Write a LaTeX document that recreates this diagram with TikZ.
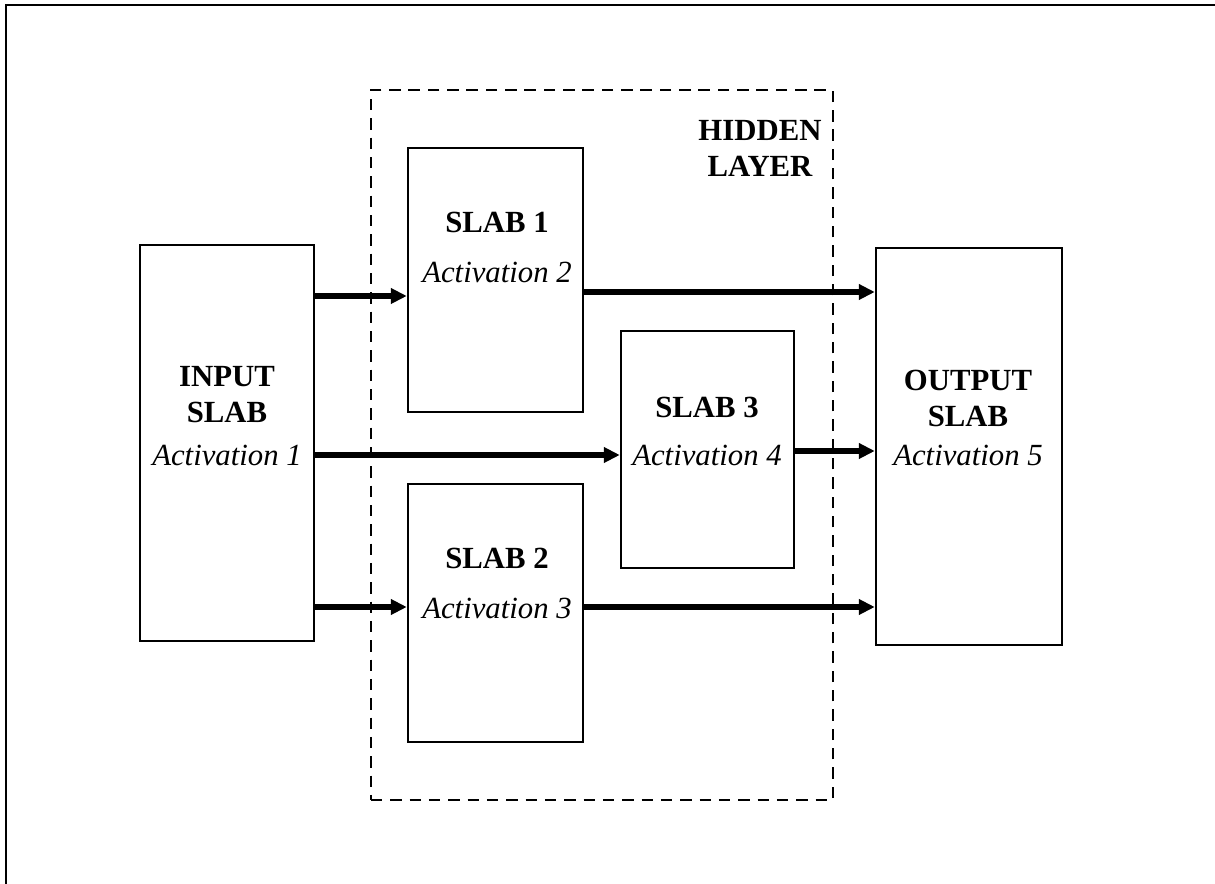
\documentclass[tikz,border=0pt]{standalone}
\usepackage{fontspec}
\setmainfont{Liberation Serif}
\usepackage{tikz}
\usetikzlibrary{arrows.meta,positioning,calc}

\begin{document}
\begin{tikzpicture}[
  font=\fontsize{17}{20.5}\selectfont,
  slab/.style={draw=black,line width=1.4pt,fill=white,inner sep=0pt},
  hid/.style={draw=black,line width=1.4pt,dash pattern=on 6.5pt off 4.5pt,inner sep=0pt},
  ttl/.style={font=\fontsize{17.5}{20.5}\selectfont\bfseries,align=center,inner sep=0pt},
  act/.style={font=\fontsize{17.5}{20.5}\selectfont\itshape,inner sep=0pt},
  fl/.style={-{Triangle[length=3.2mm,width=3mm]},line width=3pt,draw=black}]

\useasboundingbox (0,0) rectangle (24.3,-17.68);
\draw[line width=1.4pt] (0.12,-17.68) -- (0.12,-0.10) -- (24.3,-0.10);

% hidden layer
\node[hid,minimum width=9.24cm,minimum height=14.2cm] (hl) at (12.04,-8.90) {};
\node[ttl] (hltxt) at (15.2,-2.96) {HIDDEN\\LAYER};

% slabs
\node[slab,minimum width=3.48cm,minimum height=7.92cm] (in)  at ( 4.54,-8.86) {};
\node[slab,minimum width=3.50cm,minimum height=5.28cm] (s1)  at ( 9.91,-5.60) {};
\node[slab,minimum width=3.50cm,minimum height=5.16cm] (s2)  at ( 9.91,-12.26) {};
\node[slab,minimum width=3.46cm,minimum height=4.74cm] (s3)  at (14.15,-8.99) {};
\node[slab,minimum width=3.72cm,minimum height=7.94cm] (out) at (19.38,-8.93) {};

\node[ttl] (intxt)  at ( 4.54,-7.90) {INPUT\\SLAB};
\node[act] (inact)  at ( 4.54,-9.10) {Activation 1};
\node[ttl] (s1txt)  at ( 9.94,-4.44) {SLAB 1};
\node[act] (s1act)  at ( 9.94,-5.44) {Activation 2};
\node[ttl] (s2txt)  at ( 9.94,-11.16) {SLAB 2};
\node[act] (s2act)  at ( 9.94,-12.16) {Activation 3};
\node[ttl] (s3txt)  at (14.14,-8.14) {SLAB 3};
\node[act] (s3act)  at (14.14,-9.10) {Activation 4};
\node[ttl] (outtxt) at (19.36,-7.96) {OUTPUT\\SLAB};
\node[act] (outact) at (19.36,-9.10) {Activation 5};

% arrow rows
\coordinate (ra) at (0,-5.92);
\coordinate (rb) at (0,-5.84);
\coordinate (rc) at (0,-9.10);
\coordinate (rd) at (0,-9.02);
\coordinate (re) at (0,-12.14);

\draw[fl] (in.east |- ra) -- (s1.west |- ra);
\draw[fl] (in.east |- rc) -- (s3.west |- rc);
\draw[fl] (in.east |- re) -- (s2.west |- re);
\draw[fl] (s1.east |- rb) -- (out.west |- rb);
\draw[fl] (s3.east |- rd) -- (out.west |- rd);
\draw[fl] (s2.east |- re) -- (out.west |- re);
\end{tikzpicture}
\end{document}
